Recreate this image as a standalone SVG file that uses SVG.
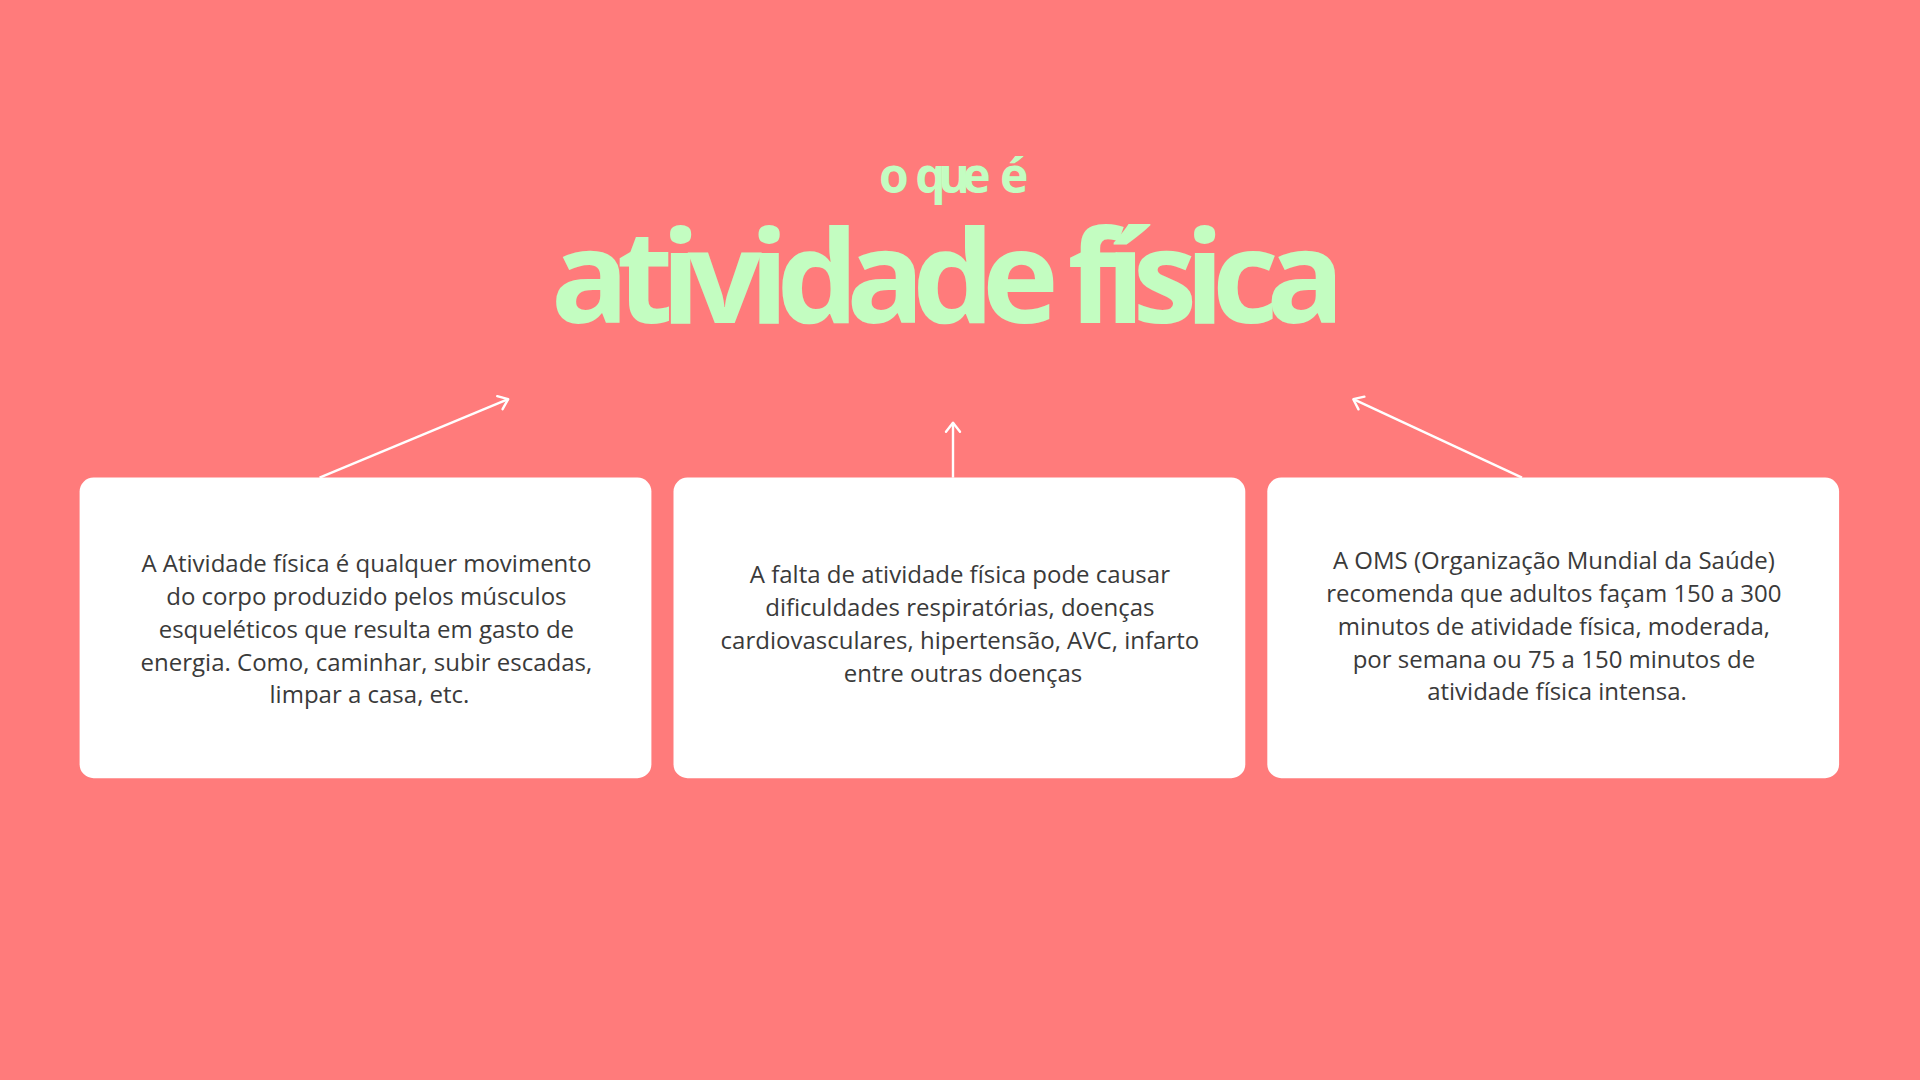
<svg xmlns="http://www.w3.org/2000/svg" width="1920" height="1080" viewBox="0 0 1920 1080">
  <defs>
    <style>
      .title { font-family: "Open Sans", "Liberation Sans", sans-serif; font-weight: 700; fill: #C3FDC1; text-anchor: middle; }
      .card { fill: #FFFFFF; }
      .body { font-family: "Open Sans", "Liberation Sans", sans-serif; font-size: 24px; fill: #3A3A3A; text-anchor: middle; }
      .conn { stroke: #FFFFFF; stroke-width: 2.4; fill: none; marker-end: url(#arrow); }
    </style>
    <marker id="arrow" markerUnits="userSpaceOnUse" markerWidth="20" markerHeight="20" refX="0" refY="0" viewBox="-12 -10 14 20" orient="auto">
      <path d="M -9 -7 L 0 0 L -9 7" fill="none" stroke="#FFFFFF" stroke-width="2.4" stroke-linecap="round" stroke-linejoin="round"/>
    </marker>
  </defs>
  <rect x="0" y="0" width="1920" height="1080" fill="#FF7B7B"/>

  <g id="heading">
    <text class="title" x="950" y="192.5" font-size="48" letter-spacing="-7.5" word-spacing="9">o que <tspan dx="3">é</tspan></text>
    <text class="title" x="941.5" y="322.7" font-size="130" letter-spacing="-12.5">atividade física</text>
  </g>

  <g id="connectors">
    <line class="conn" x1="319.6" y1="477.6" x2="508.2" y2="399.2"/>
    <line class="conn" x1="953" y1="477.6" x2="953" y2="422.7"/>
    <line class="conn" x1="1522" y1="477.6" x2="1353.3" y2="399.2"/>
  </g>

  <g id="card1">
    <rect class="card" x="79.6" y="477.6" width="571.8" height="300.6" rx="14"/>
    <text class="body">
      <tspan x="369.5" y="572.3">A Atividade física é qualquer movimento</tspan>
      <tspan x="369.5" y="605">do corpo produzido pelos músculos</tspan>
      <tspan x="369.5" y="637.8">esqueléticos que resulta em gasto de</tspan>
      <tspan x="369.5" y="670.5">energia. Como, caminhar, subir escadas,</tspan>
      <tspan x="369.5" y="703.3">limpar a casa, etc.</tspan>
    </text>
  </g>

  <g id="card2">
    <rect class="card" x="673.5" y="477.6" width="571.8" height="300.6" rx="14"/>
    <text class="body">
      <tspan x="963" y="583.3">A falta de atividade física pode causar</tspan>
      <tspan x="963" y="616">dificuldades respiratórias, doenças</tspan>
      <tspan x="963" y="648.8">cardiovasculares, hipertensão, AVC, infarto</tspan>
      <tspan x="963" y="681.5">entre outras doenças</tspan>
    </text>
  </g>

  <g id="card3">
    <rect class="card" x="1267.3" y="477.6" width="571.8" height="300.6" rx="14"/>
    <text class="body">
      <tspan x="1557" y="569.3">A OMS (Organização Mundial da Saúde)</tspan>
      <tspan x="1557" y="602">recomenda que adultos façam 150 a 300</tspan>
      <tspan x="1557" y="634.8">minutos de atividade física, moderada,</tspan>
      <tspan x="1557" y="667.5">por semana ou 75 a 150 minutos de</tspan>
      <tspan x="1557" y="700.3">atividade física intensa.</tspan>
    </text>
  </g>
</svg>
